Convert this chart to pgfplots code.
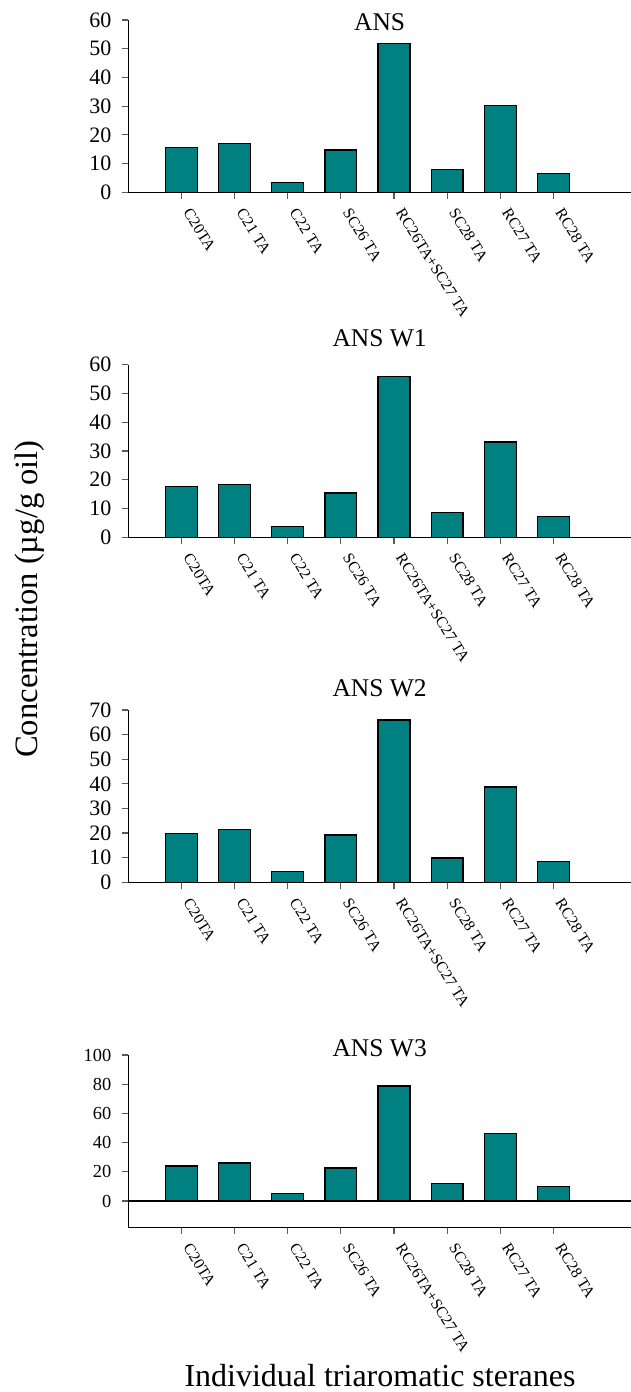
\documentclass[border=0pt]{standalone}
\usepackage{fontspec}
\setmainfont{Liberation Serif}
\usepackage{pgfplots}
\pgfplotsset{compat=1.18}
\definecolor{barteal}{RGB}{0,128,128}
\pgfplotsset{
  every axis title/.style={at={(0.5,1)}, anchor=base, font=\fontsize{12.75}{15}\selectfont},
  panel/.style={
    anchor=south west,
    scale only axis,
    width=251.35pt,
    height=86.15pt,
    xmin=0, xmax=9.46,
    axis x line*=bottom,
    axis y line*=left,
    axis line style={black, line width=0.6pt},
    tick align=outside,
    major tick length=3.3pt,
    tick style={gray!70!black, line width=0.6pt},
    xtick={1,...,8},
    xticklabels={C20TA, C21 TA, C22 TA, SC26 TA, RC26TA+SC27 TA, SC28 TA, RC27 TA, RC28 TA},
    xticklabel style={font=\fontsize{7.9}{9.5}\selectfont, rotate=-58, anchor=west, inner sep=1pt, xshift=5.1pt, yshift=-0.5pt},
    yticklabel style={font=\fontsize{11}{13}\selectfont, inner sep=1pt, xshift=-4pt},
    /pgf/number format/assume math mode=true,
    ymin=0,
    ybar, bar width=0.6,
    clip=false,
  },
  barstyle/.style={fill=barteal, draw=black, line width=0.6pt},
}
\begin{document}
\begin{tikzpicture}
\useasboundingbox (0,0) rectangle (315.5pt,-696pt);

\begin{axis}[panel, at={(64.15pt,-96.15pt)}, ymax=60, ytick={0,10,...,60},
  title={ANS}, title style={yshift=-5.35pt}]
\addplot[barstyle] coordinates {(1,15.5) (2,16.9) (3,3.5) (4,14.7) (5,51.7) (6,7.9) (7,30.2) (8,6.5)};
\end{axis}

\begin{axis}[panel, at={(64.15pt,-268.65pt)}, height=86.3pt, ymax=60, ytick={0,10,...,60},
  title={ANS W1}, title style={yshift=9pt}]
\addplot[barstyle] coordinates {(1,17.8) (2,18.4) (3,3.8) (4,15.4) (5,56.0) (6,8.5) (7,33.1) (8,7.1)};
\end{axis}

\begin{axis}[panel, at={(64.15pt,-441.15pt)}, ymax=70, ytick={0,10,...,70},
  title={ANS W2}, title style={yshift=7pt}]
\addplot[barstyle] coordinates {(1,19.8) (2,21.5) (3,4.3) (4,19.2) (5,65.9) (6,9.9) (7,38.7) (8,8.3)};
\end{axis}

\begin{axis}[panel, at={(64.15pt,-613.65pt)}, ymin=-18, ymax=100, ytick={0,20,...,100},
  yticklabel style={font=\fontsize{9.2}{11}\selectfont},
  title={ANS W3}, title style={yshift=-0.5pt}]
\addplot[barstyle] coordinates {(1,24.0) (2,26.0) (3,5.0) (4,22.6) (5,78.8) (6,11.9) (7,46.1) (8,10.0)};
\addplot[black, line width=0.6pt, sharp plot, no marks] coordinates {(0,0) (9.46,0)};
\end{axis}

\node[rotate=90, anchor=base, font=\fontsize{16.3}{19}\selectfont] at (18.5pt,-299.5pt) {Concentration (µg/g oil)};
\node[anchor=base, font=\fontsize{16}{19}\selectfont] at (190pt,-693.35pt) {Individual triaromatic steranes};
\end{tikzpicture}
\end{document}
